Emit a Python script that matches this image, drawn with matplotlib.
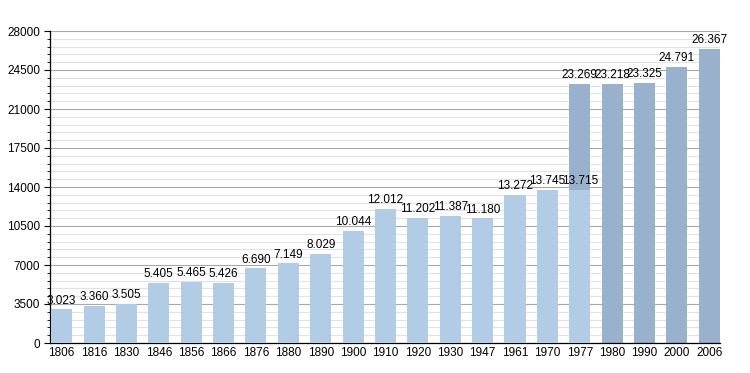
import matplotlib
matplotlib.use("Agg")
import matplotlib.pyplot as plt
import numpy as np
from matplotlib.ticker import MultipleLocator

years = ["1806", "1816", "1830", "1846", "1856", "1866", "1876", "1880", "1890", "1900",
         "1910", "1920", "1930", "1947", "1961", "1970", "1977", "1980", "1990", "2000", "2006"]
# first series (light bars), old counting
pop_old = [3023, 3360, 3505, 5405, 5465, 5426, 6690, 7149, 8029, 10044,
           12012, 11202, 11387, 11180, 13272, 13745, 13715]
# second series (darker bars), from 1977 on
years_new = ["1977", "1980", "1990", "2000", "2006"]
pop_new = [23269, 23218, 23325, 24791, 26367]

light = "#b3cce6"
dark = "#99b1cc"

plt.rcParams["font.family"] = ["Liberation Sans", "DejaVu Sans"]
fig = plt.figure(figsize=(7.5, 3.73), dpi=100)
ax = fig.add_axes([50 / 750, 30 / 373, 670 / 750, 312 / 373])

x = np.arange(len(years))
w = 0.65

def fmt(v):
    return "{:,}".format(v).replace(",", ".")

x_new = [years.index(y) for y in years_new]
ax.bar(x_new, pop_new, w, color=dark, zorder=2)
for xi, v in zip(x_new, pop_new):
    ax.text(xi, v + 250, fmt(v), ha="center", va="bottom", fontsize=8.5, zorder=4)

x_old = x[:len(pop_old)]
ax.bar(x_old, pop_old, w, color=light, zorder=3)
for xi, v in zip(x_old, pop_old):
    ax.text(xi, v + 250, fmt(v), ha="center", va="bottom", fontsize=8.5, zorder=4)

ax.set_xticks(x)
ax.set_xticklabels(years, fontsize=8.5)
ax.tick_params(axis="x", length=0, pad=3)
ax.set_xlim(-0.36, 20.33)

ax.set_ylim(0, 28000)
ax.yaxis.set_major_locator(MultipleLocator(3500))
ax.yaxis.set_minor_locator(MultipleLocator(700))
ax.tick_params(axis="y", which="major", length=4, labelsize=8.5, pad=3)
ax.tick_params(axis="y", which="minor", length=2)
ax.grid(axis="y", which="major", color="#a8a8a8", linewidth=0.8, zorder=0)
ax.grid(axis="y", which="minor", color="#e2e2e2", linewidth=0.8, zorder=0)
ax.set_axisbelow(True)

for s in ["top", "right"]:
    ax.spines[s].set_visible(False)
ax.spines["left"].set_linewidth(0.9)
ax.spines["bottom"].set_linewidth(0.9)

fig.savefig("out.png", dpi=100)
